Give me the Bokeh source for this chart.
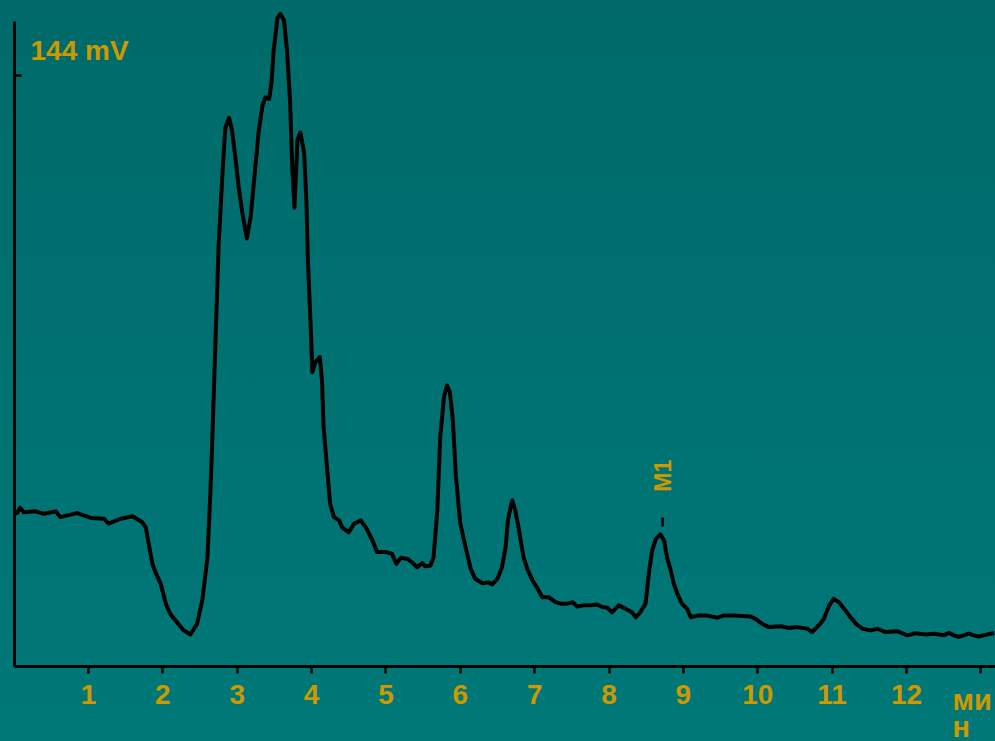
from bokeh.plotting import figure
from bokeh.models import Range1d, FixedTicker, Label, GlobalInlineStyleSheet
from bokeh.embed import file_html
from bokeh.resources import INLINE

# ---- data ----
time_min = [0.00, 0.04, 0.08, 0.13, 0.29, 0.40, 0.56, 0.62, 0.76, 0.85, 1.03, 1.21, 1.27, 1.43, 1.59,
            1.72, 1.77, 1.81, 1.86, 1.90, 1.97, 2.04, 2.10, 2.19, 2.28, 2.37, 2.46, 2.53, 2.60, 2.64,
            2.66, 2.71, 2.75, 2.80, 2.84, 2.89, 2.93, 2.98, 3.02, 3.07, 3.13, 3.18, 3.23, 3.29, 3.34,
            3.38, 3.43, 3.46, 3.49, 3.54, 3.58, 3.63, 3.67, 3.71, 3.74, 3.77, 3.81, 3.85, 3.90, 3.93,
            3.95, 3.99, 4.01, 4.05, 4.11, 4.14, 4.16, 4.21, 4.25, 4.30, 4.37, 4.41, 4.50, 4.57, 4.66,
            4.73, 4.82, 4.88, 4.99, 5.08, 5.14, 5.20, 5.29, 5.35, 5.42, 5.49, 5.53, 5.60, 5.64, 5.69,
            5.73, 5.78, 5.82, 5.86, 5.90, 5.94, 6.00, 6.07, 6.14, 6.20, 6.30, 6.38, 6.43, 6.50, 6.56,
            6.61, 6.64, 6.68, 6.70, 6.74, 6.79, 6.85, 6.90, 6.97, 7.03, 7.10, 7.19, 7.28, 7.35, 7.44,
            7.51, 7.57, 7.66, 7.75, 7.84, 7.91, 7.98, 8.04, 8.13, 8.22, 8.31, 8.36, 8.42, 8.49, 8.54,
            8.58, 8.63, 8.69, 8.74, 8.78, 8.83, 8.87, 8.92, 8.98, 9.05, 9.10, 9.19, 9.32, 9.46, 9.54,
            9.68, 9.90, 9.97, 10.06, 10.15, 10.31, 10.42, 10.53, 10.67, 10.73, 10.82, 10.89, 10.96, 11.02,
            11.09, 11.16, 11.23, 11.32, 11.41, 11.52, 11.61, 11.72, 11.88, 12.01, 12.12, 12.26, 12.37,
            12.50, 12.57, 12.64, 12.70, 12.77, 12.84, 12.91, 12.97, 13.04, 13.11, 13.18]
signal_mv = [37.3, 37.4, 38.7, 37.6, 37.8, 37.2, 37.8, 36.4, 37.0, 37.4, 36.2, 36.0, 34.8, 36.0, 36.6,
             35.2, 33.9, 29.9, 25.0, 23.0, 20.2, 15.3, 12.8, 10.8, 8.8, 7.8, 10.4, 16.1, 26.6, 42.9,
             52.6, 80.7, 102.6, 119.6, 131.3, 133.7, 130.6, 123.3, 116.7, 110.4, 104.3, 109.4, 119.1, 130.6, 136.7,
             138.7, 138.3, 142.1, 150.1, 157.9, 159.0, 157.4, 150.1, 137.9, 121.6, 111.8, 128.2, 130.1, 125.0, 113.5,
             98.9, 81.9, 71.7, 74.1, 75.4, 69.7, 58.7, 47.8, 39.6, 36.4, 35.6, 33.9, 32.7, 34.8, 35.6,
             33.9, 30.7, 27.9, 27.9, 27.5, 25.0, 26.5, 26.2, 25.4, 24.2, 25.2, 24.4, 24.6, 26.6, 38.0,
             55.9, 65.6, 68.5, 66.8, 59.9, 46.5, 34.8, 29.1, 23.8, 21.4, 20.3, 20.5, 20.0, 21.4, 24.2,
             29.1, 35.6, 39.2, 40.5, 38.0, 33.1, 26.6, 23.8, 21.0, 19.3, 16.9, 16.9, 15.7, 15.3, 15.3,
             15.7, 14.6, 14.9, 14.9, 15.1, 14.5, 14.3, 13.2, 14.9, 14.1, 13.2, 12.0, 13.2, 15.3, 23.4,
             28.3, 31.1, 32.2, 30.7, 26.6, 23.4, 20.2, 17.7, 15.3, 14.1, 12.0, 12.4, 12.4, 11.9, 12.4,
             12.4, 12.2, 11.6, 10.4, 9.6, 9.8, 9.4, 9.6, 9.2, 8.4, 10.0, 11.6, 14.9, 16.5,
             15.7, 14.1, 12.4, 10.4, 9.2, 8.8, 9.2, 8.4, 8.6, 7.6, 8.1, 7.8, 8.0,
             7.6, 8.2, 7.6, 7.2, 7.6, 8.0, 7.6, 7.3, 7.6, 7.9, 8.1]

x_ticks = [1, 2, 3, 4, 5, 6, 7, 8, 9, 10, 11, 12, 13]
x_tick_labels = {1: "1", 2: "2", 3: "3", 4: "4", 5: "5", 6: "6", 7: "7", 8: "8",
                 9: "9", 10: "10", 11: "11", 12: "12", 13: ""}
y_ticks = [144]
y_tick_labels = {144: ""}
y_label_text = "144 mV"
unit_text = ["ми", "н"]
peak_name = "M1"
peak_time = 8.72
peak_mark = [34.1, 36.3]

GOLD = "#CC9900"
FONT = "Liberation Sans"

css = GlobalInlineStyleSheet(css="""
html, body { margin: 0; padding: 0; height: 100%; overflow: hidden;
  background: linear-gradient(to bottom, #006a6a, #007878); }
""")

p = figure(width=995, height=741, output_backend="svg", toolbar_location=None,
           x_range=Range1d(-0.1834, 13.197), y_range=Range1d(-18.27, 162.27),
           min_border_left=0, min_border_right=0, min_border_top=0, min_border_bottom=0,
           background_fill_alpha=0, border_fill_alpha=0, outline_line_color=None)
p.stylesheets = [css]
p.grid.visible = False

p.line(time_min, signal_mv, line_color="black", line_width=4, line_join="round")

# axes, fixed at the origin inside the frame
xa = p.xaxis[0]
xa.fixed_location = 0
xa.bounds = (0, 13.197)
xa.ticker = FixedTicker(ticks=x_ticks)
xa.major_label_overrides = x_tick_labels
xa.axis_line_width = 3
xa.axis_line_color = "black"
xa.major_tick_line_width = 2.5
xa.major_tick_line_color = "black"
xa.major_tick_in = 0
xa.major_tick_out = 7
xa.minor_tick_line_color = None
xa.major_label_text_font = FONT
xa.major_label_text_font_style = "bold"
xa.major_label_text_font_size = "28px"
xa.major_label_text_color = GOLD
xa.major_label_standoff = 11

ya = p.yaxis[0]
ya.fixed_location = 0
ya.ticker = FixedTicker(ticks=y_ticks)
ya.major_label_overrides = y_tick_labels
ya.bounds = (0, 157.2)
ya.axis_line_width = 3
ya.axis_line_color = "black"
ya.major_tick_line_width = 2.5
ya.major_tick_line_color = "black"
ya.major_tick_in = 7
ya.major_tick_out = 0
ya.minor_tick_line_color = None
ya.major_label_standoff = 0

p.add_layout(Label(x=0.22, y=153.8, text=y_label_text, text_font=FONT,
                   text_font_style="bold", text_font_size="28px", text_color=GOLD,
                   text_align="left", text_baseline="top"))

# unit label "мин" wrapped over two lines
p.add_layout(Label(x=12.62, y=-8.05, text=unit_text[0], text_font=FONT,
                   text_font_style="bold", text_font_size="29px", text_color=GOLD,
                   text_align="left", text_baseline="alphabetic"))
p.add_layout(Label(x=12.62, y=-14.85, text=unit_text[1], text_font=FONT,
                   text_font_style="bold", text_font_size="29px", text_color=GOLD,
                   text_align="left", text_baseline="alphabetic"))

# peak marker
p.segment(x0=[peak_time], y0=[peak_mark[0]], x1=[peak_time], y1=[peak_mark[1]],
          line_color="black", line_width=2.5)
p.add_layout(Label(x=peak_time, y=46.5, text=peak_name, text_font=FONT,
                   text_font_style="bold", text_font_size="23px", text_color=GOLD,
                   angle=1.5708, text_align="center", text_baseline="middle"))

open("out.html", "w").write(file_html(p, INLINE))
